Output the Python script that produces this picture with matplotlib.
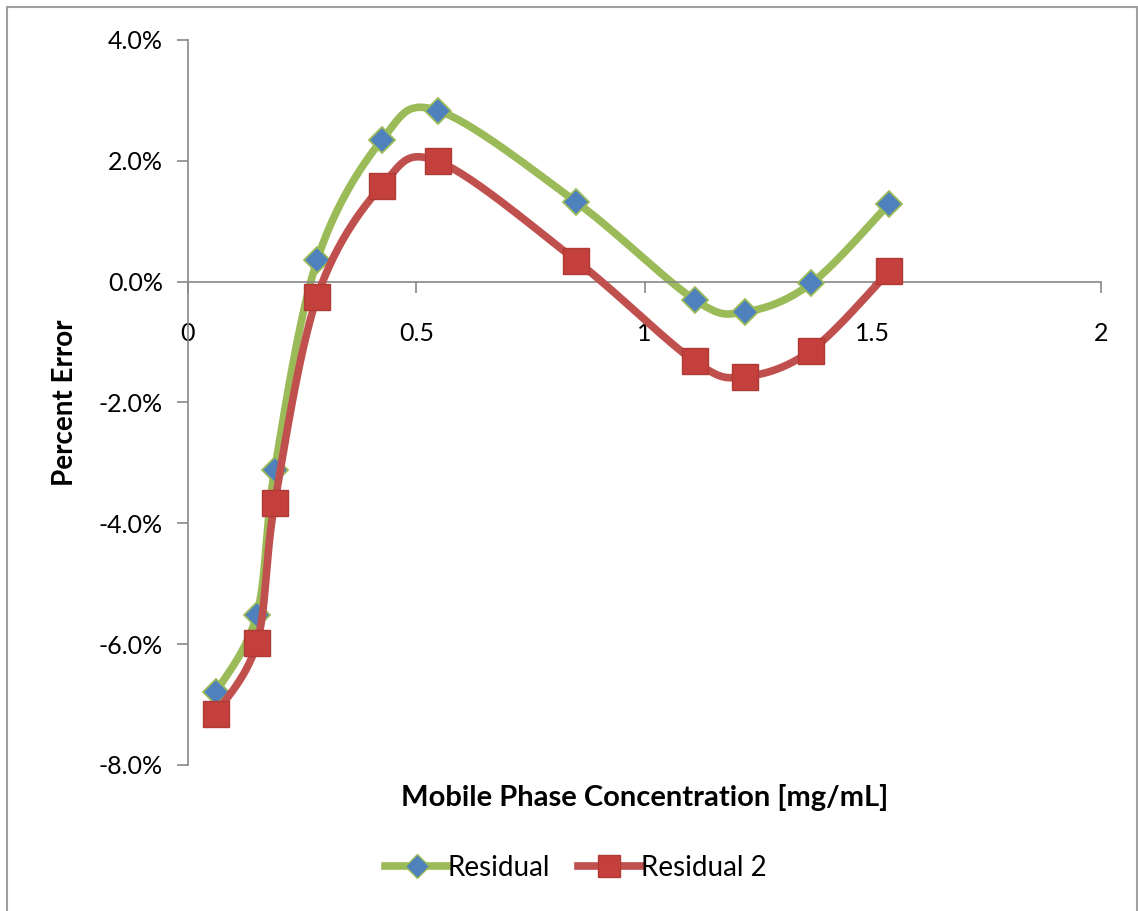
import numpy as np
import matplotlib.pyplot as plt
from matplotlib.ticker import FuncFormatter

# Data
conc = [0.061, 0.151, 0.19, 0.283, 0.425, 0.548, 0.85, 1.11, 1.22, 1.365, 1.536]
residual = [-6.80, -5.51, -3.11, 0.36, 2.35, 2.83, 1.32, -0.30, -0.50, -0.03, 1.29]
residual2 = [-7.15, -5.98, -3.66, -0.25, 1.59, 1.99, 0.35, -1.32, -1.57, -1.14, 0.17]

x_ticks = [0, 0.5, 1, 1.5, 2]
y_ticks = [-8, -6, -4, -2, 0, 2, 4]

green = '#9BBB59'
blue = '#4F81BD'
red = '#C0504D'


def smooth(x, y, sx=2.0, sy=12.0, n=30):
    # Catmull-Rom / Excel-style smoothing in normalized coordinates
    p = np.column_stack([np.asarray(x) / sx, np.asarray(y) / sy])
    p = np.vstack([p[0], p, p[-1]])
    out = []
    for i in range(1, len(p) - 2):
        p0, p1, p2, p3 = p[i - 1], p[i], p[i + 1], p[i + 2]
        c1 = p1 + (p2 - p0) / 6
        c2 = p2 - (p3 - p1) / 6
        t = np.linspace(0, 1, n)[:, None]
        seg = ((1 - t) ** 3) * p1 + 3 * ((1 - t) ** 2) * t * c1 + 3 * (1 - t) * t ** 2 * c2 + t ** 3 * p2
        out.append(seg if i == 1 else seg[1:])
    out = np.vstack(out)
    return out[:, 0] * sx, out[:, 1] * sy


plt.rcParams['font.family'] = ['Lato', 'DejaVu Sans']

fig = plt.figure(figsize=(11.38, 9.11), dpi=100)
ax = fig.add_axes([0.1652, 0.1603, 0.8023, 0.7958])

sx, sy = smooth(conc, residual)
ax.plot(sx, sy, color=green, lw=5.5, solid_capstyle='round', zorder=2)
ax.plot(conc, residual, ls='none', marker='D', ms=13, mfc=blue, mec=green, mew=1.3, zorder=3)

sx2, sy2 = smooth(conc, residual2)
ax.plot(sx2, sy2, color=red, lw=5.5, solid_capstyle='round', zorder=4)
ax.plot(conc, residual2, ls='none', marker='s', ms=19, mfc='#C4403C', mec='#B03A36', mew=1.0, zorder=5)

# legend proxies
ax.plot([], [], color=green, lw=5.5, marker='D', ms=12, mfc=blue, mec=green, label='Residual')
ax.plot([], [], color=red, lw=5.5, marker='s', ms=16, mfc='#C4403C', mec='#B03A36', label='Residual 2')

ax.set_xlim(0, 2)
ax.set_ylim(-8, 4)
ax.set_xticks(x_ticks)
ax.set_yticks(y_ticks)
ax.xaxis.set_major_formatter(FuncFormatter(lambda v, p: '%g' % v))
ax.yaxis.set_major_formatter(FuncFormatter(lambda v, p: '%.1f%%' % v))

for s in ['top', 'right']:
    ax.spines[s].set_visible(False)
ax.spines['left'].set_color('#888888')
ax.spines['bottom'].set_color('#888888')
ax.spines['bottom'].set_position(('data', 0))
ax.spines['left'].set_linewidth(1.2)
ax.spines['bottom'].set_linewidth(1.2)

ax.tick_params(axis='y', direction='out', length=8, width=1.2, color='#888888', labelsize=18, pad=10)
ax.tick_params(axis='x', direction='out', length=8, width=1.2, color='#888888', labelsize=18, pad=21)

ax.set_xlabel('Mobile Phase Concentration [mg/mL]', fontsize=21, fontweight='bold', labelpad=0)
ax.xaxis.set_label_coords(0.5, -0.026)
ax.set_ylabel('Percent Error', fontsize=20, fontweight='bold')
ax.yaxis.set_label_coords(-0.12, 0.5)

fig.legend(loc='center', bbox_to_anchor=(0.506, 0.047), ncol=2, frameon=False, fontsize=20,
           handlelength=2.25, columnspacing=1.0, handletextpad=0.0)

# outer chart border
fig.patches.append(plt.Rectangle((0.006, -0.01), 0.993, 1.002, transform=fig.transFigure,
                                 fill=False, ec='#A0A0A0', lw=1.5))

fig.savefig('out.png', dpi=100)
